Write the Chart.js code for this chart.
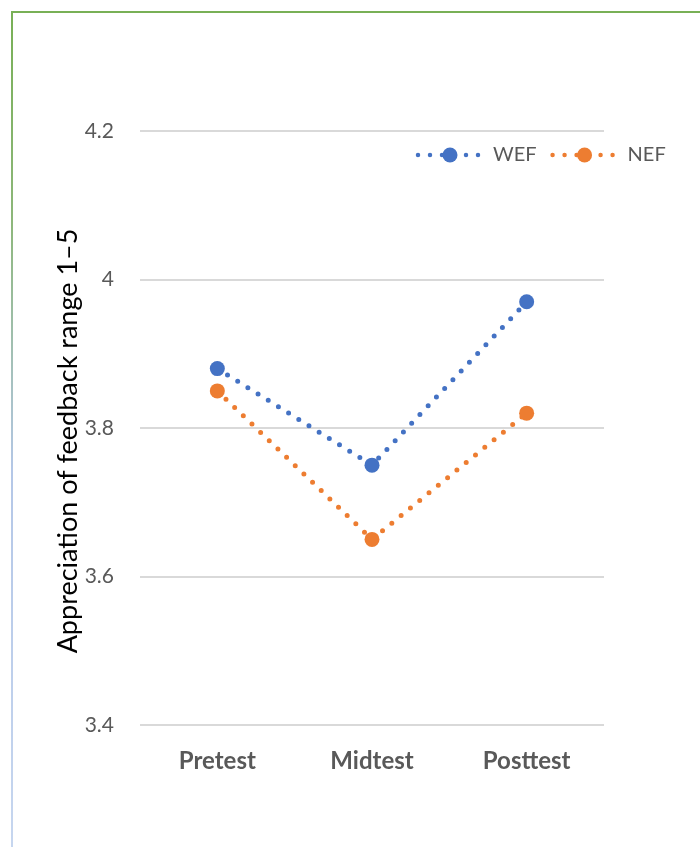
<!DOCTYPE html>
<html>
<head>
<meta charset="utf-8">
<script src="https://cdn.jsdelivr.net/npm/chart.js@4.4.1/dist/chart.umd.min.js"></script>
<style>
  body { margin: 0; background: #fff; }
  #wrap { position: relative; width: 700px; height: 847px; overflow: hidden; }
  #frameTop { position: absolute; left: 11px; top: 11px; right: 0; height: 2px; background: #78b056; }
  #frameLeft { position: absolute; left: 11px; top: 11px; width: 2px; bottom: 0;
    background: linear-gradient(#78b056 0%, #8db77a 25%, #b4c7e7 55%, #c6d6ef 100%); }
  canvas { position: absolute; left: 0; top: 0; }
</style>
</head>
<body>
<div id="wrap">
  <div id="frameTop"></div>
  <div id="frameLeft"></div>
  <canvas id="chart" width="700" height="847"></canvas>
</div>
<script>
const categories = ["Pretest", "Midtest", "Posttest"];
const wefValues = [3.88, 3.75, 3.97];
const nefValues = [3.85, 3.65, 3.82];
const yTicks = [3.4, 3.6, 3.8, 4, 4.2];
const yTitle = "Appreciation of feedback range 1–5";

const fontName = "Lato";
const grey = "#595959";

// legend and y-axis title drawn on top, legend sits inside the plot like in Excel
const overlayPlugin = {
  id: "overlay",
  afterDraw: (chart) => {
    const ctx = chart.ctx;

    ctx.save();
    ctx.translate(68, 441);
    ctx.rotate(-Math.PI / 2);
    ctx.font = `27px ${fontName}`;
    ctx.fillStyle = "#000";
    ctx.textAlign = "center";
    ctx.textBaseline = "middle";
    ctx.fillText(yTitle, 0, 0);
    ctx.restore();

    let x = 415;
    const y = 155;
    chart.data.datasets.forEach((ds) => {
      ctx.save();
      ctx.strokeStyle = ds.borderColor;
      ctx.lineWidth = 4.5;
      ctx.lineCap = "round";
      ctx.setLineDash(ds.borderDash);
      ctx.beginPath();
      ctx.moveTo(x + 3, y);
      ctx.lineTo(x + 66, y);
      ctx.stroke();
      ctx.setLineDash([]);
      ctx.fillStyle = ds.pointBackgroundColor;
      ctx.beginPath();
      ctx.arc(x + 35, y, ds.pointRadius, 0, Math.PI * 2);
      ctx.fill();
      ctx.font = `20px ${fontName}`;
      ctx.fillStyle = grey;
      ctx.textAlign = "left";
      ctx.textBaseline = "middle";
      ctx.fillText(ds.label, x + 78, y);
      x += 78 + ctx.measureText(ds.label).width + 13;
      ctx.restore();
    });
  },
};

const ctx = document.querySelector("#chart").getContext("2d");
new Chart(ctx, {
  type: "line",
  data: {
    labels: categories,
    datasets: [
      {
        label: "WEF",
        data: wefValues,
        borderColor: "#4472C4",
        pointBackgroundColor: "#4472C4",
        borderWidth: 5,
        borderDash: [0, 12],
        borderCapStyle: "round",
        pointRadius: 7.5,
        pointBorderWidth: 0,
        tension: 0,
        fill: false,
      },
      {
        label: "NEF",
        data: nefValues,
        borderColor: "#ED7D31",
        pointBackgroundColor: "#ED7D31",
        borderWidth: 5,
        borderDash: [0, 12],
        borderCapStyle: "round",
        pointRadius: 7.5,
        pointBorderWidth: 0,
        tension: 0,
        fill: false,
      },
    ],
  },
  options: {
    responsive: false,
    animation: false,
    layout: { padding: { top: 131, right: 96, left: 0, bottom: 0 } },
    plugins: {
      legend: { display: false },
      tooltip: { enabled: false },
    },
    scales: {
      x: {
        type: "category",
        offset: true,
        grid: { display: false },
        border: { display: false },
        ticks: {
          color: grey,
          font: { family: fontName, size: 24, weight: "bold" },
          padding: 14,
        },
        afterFit: (scale) => {
          scale.height = 122;
        },
      },
      y: {
        min: 3.4,
        max: 4.2,
        grid: { color: "#d9d9d9", lineWidth: 2, drawTicks: false },
        border: { display: false },
        ticks: {
          color: grey,
          font: { family: fontName, size: 21 },
          padding: 26,
          callback: (value) => String(Math.round(value * 10) / 10),
        },
        afterBuildTicks: (scale) => {
          scale.ticks = yTicks.map((v) => ({ value: v }));
        },
        afterFit: (scale) => {
          scale.width = 140;
        },
      },
    },
  },
  plugins: [overlayPlugin],
});
</script>
</body>
</html>
